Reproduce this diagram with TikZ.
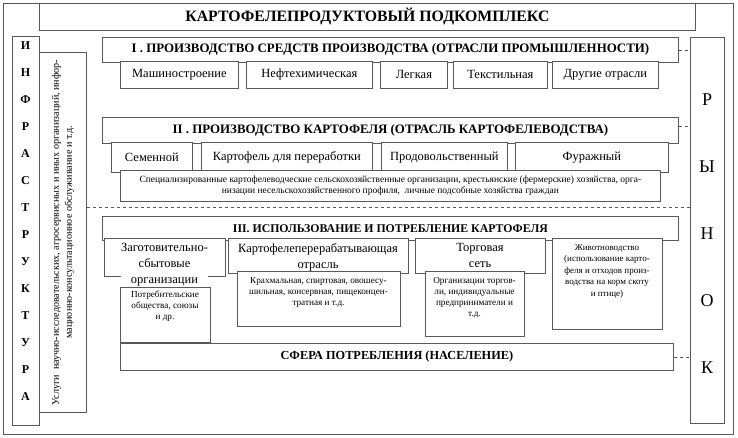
\documentclass[tikz,border=0pt]{standalone}
\usepackage{fontspec}
\setmainfont{Liberation Serif}
\usetikzlibrary{calc}
\definecolor{lc}{HTML}{5A5A5A}
\newcommand\mybox[7]{\node[bx,#6,anchor=north west,minimum width={#4pt-#2pt},minimum height={#5pt-#3pt}] (#1) at (#2,#3) {#7};}
\tikzset{
  bx/.style={draw=lc, line width=0.75pt, fill=white, inner sep=0pt, align=center},
  hd/.style={font=\fontsize{12.9}{14}\selectfont\bfseries},
  ttl/.style={font=\fontsize{15.8}{18}\selectfont\bfseries},
  sub/.style={font=\fontsize{12.5}{14}\selectfont},
  lab/.style={font=\fontsize{12.5}{16}\selectfont, align=center, inner sep=0pt},
  sm/.style={font=\fontsize{9.2}{11}\selectfont, align=center, inner sep=0pt},
  conn/.style={draw=lc, dashed, line width=0.6pt},
  letb/.style={font=\fontsize{12}{14}\selectfont\bfseries, inner sep=0pt},
  letr/.style={font=\fontsize{18}{20}\selectfont, inner sep=0pt}
}
\begin{document}
\begin{tikzpicture}[x=1pt,y=-1pt]
\useasboundingbox (0,0) rectangle (738,438);
% outer frame
\mybox{frame}{3}{3}{733}{434}{fill=none}{}
% title
\mybox{title}{39}{3}{695}{30}{ttl}{КАРТОФЕЛЕПРОДУКТОВЫЙ ПОДКОМПЛЕКС}
% infrastructure
\mybox{infra}{12}{36}{39}{425}{}{}
\foreach \l [count=\i from 0] in {И,Н,Ф,Р,А,С,Т,Р,У,К,Т,У,Р,А}
  \node[letb] (inf\i) at (25.5,{46+\i*27}) {\l};
\mybox{serv}{39}{52}{86}{412}{}{}
\node[rotate=90, font=\fontsize{10.1}{13}\selectfont, align=center, inner sep=0pt] (servt) at (serv.center)
  {Услуги~ научно-исследовательских, агросервисных и иных организаций, инфор-\\мационно-консультационное обслуживание и т.д.};
% market
\mybox{market}{690}{37}{724}{423}{}{}
\foreach \l [count=\i from 0] in {Р,Ы,Н,О,К}
  \node[letr] (mk\i) at (707,{100+\i*67}) {\l};
% section I
\mybox{s1}{102}{37}{678}{62}{hd}{I . ПРОИЗВОДСТВО СРЕДСТВ ПРОИЗВОДСТВА (ОТРАСЛИ ПРОМЫШЛЕННОСТИ)}
\mybox{m1}{120}{61}{238}{88}{sub}{Машиностроение}
\mybox{m2}{246}{61}{372}{88}{sub}{Нефтехимическая}
\mybox{m3}{380}{61}{447}{88}{sub}{Легкая}
\mybox{m4}{453}{61}{547}{88}{sub}{Текстильная}
\mybox{m5}{552}{61}{658}{88}{sub}{Другие отрасли}
% section II
\mybox{s2}{102}{117}{678}{143}{hd}{II . ПРОИЗВОДСТВО КАРТОФЕЛЯ (ОТРАСЛЬ КАРТОФЕЛЕВОДСТВА)}
\mybox{p1}{111}{142}{192}{172}{sub}{Семенной}
\mybox{p2}{201}{142}{372}{172}{sub}{Картофель для переработки}
\mybox{p3}{381}{142}{507}{172}{sub}{Продовольственный}
\mybox{p4}{515}{142}{668}{172}{sub}{Фуражный}
\mybox{dsc2}{120}{170}{660}{201}{sm,font=\fontsize{9.5}{11.5}\selectfont}{Специализированные картофелеводческие сельскохозяйственные организации, крестьянские (фермерские) хозяйства, орга-\\низации несельскохозяйственного профиля,\ \ личные подсобные хозяйства граждан}
% section III
\mybox{s3}{102}{216}{678}{240}{hd,font=\fontsize{11.8}{14}\selectfont\bfseries}{III. ИСПОЛЬЗОВАНИЕ И ПОТРЕБЛЕНИЕ КАРТОФЕЛЯ}
\mybox{l1}{104}{238}{225}{276}{}{}
\node[lab, fill=white, anchor=north] (l1t) at (164.5,243) {Заготовительно-\\сбытовые\\организации};
\mybox{d1}{120}{287}{210}{342}{}{}
\node[sm, anchor=north] (d1t) at (165,291) {Потребительские\\общества, союзы\\и др.};
\mybox{l2}{228}{238}{408}{273}{}{}
\node[lab, anchor=north] (l2t) at (318,243) {Картофелеперерабатывающая\\отрасль};
\mybox{d2}{237}{271}{400}{326}{}{}
\node[sm, anchor=north] (d2t) at (318.5,277) {Крахмальная, спиртовая, овошесу-\\шильная, консервная, пищеконцен-\\тратная и т.д.};
\mybox{l3}{415}{238}{545}{273}{}{}
\node[lab, anchor=north] (l3t) at (480,243) {Торговая\\сеть};
\mybox{d3}{425}{271}{524}{336}{}{}
\node[sm, anchor=north] (d3t) at (474.5,277) {Организации торгов-\\ли, индивидуальные\\предприниматели и\\т.д.};
\mybox{l4}{552}{238}{662}{329}{}{}
\node[sm, anchor=north, font=\fontsize{9}{11.5}\selectfont] (l4t) at (607,244) {Животноводство\\(использование карто-\\феля и отходов произ-\\водства на корм скоту\\и птице)};
% consumption
\mybox{cons}{120}{343}{673}{370}{font=\fontsize{12.3}{14}\selectfont\bfseries}{СФЕРА ПОТРЕБЛЕНИЯ (НАСЕЛЕНИЕ)}
% connectors
\draw[conn] (s1.east) -- (s1.east -| market.west);
\draw[conn] ($(s2.north east)!0.35!(s2.south east)$) coordinate (c2) -- (c2 -| market.west);
\coordinate (dl) at (86,207);
\draw[conn] (dl -| serv.east) -- (dl -| market.west);
\draw[conn] (cons.east) -- (cons.east -| market.west);
\end{tikzpicture}
\end{document}
